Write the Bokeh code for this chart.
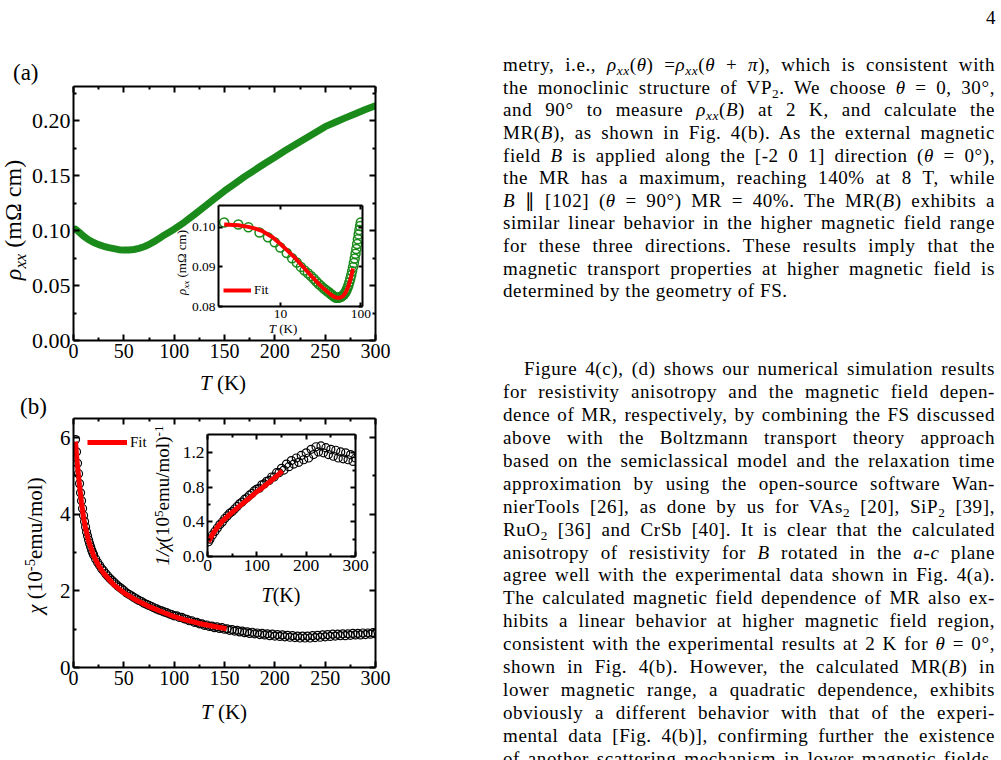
from bokeh.plotting import figure
from bokeh.models import (Div, Column, LinearAxis, LogAxis, FixedTicker, Legend, LegendItem,
                          Range1d, PrintfTickFormatter)
from bokeh.embed import file_html
from bokeh.resources import INLINE

SERIF = "Liberation Serif"
GREEN = "#1a8a1a"
RED = "#ff0000"

# ---------------- data ----------------
# (a) main: rho_xx(T), mOhm cm
a_T = [2, 5, 10, 15, 20, 25, 30, 35, 40, 45, 50, 55, 60, 65, 70, 75, 80, 85, 90, 95, 100,
       110, 120, 130, 140, 150, 160, 170, 180, 190, 200, 210, 220, 230, 240, 250, 260, 270,
       280, 290, 300]
a_rho = [0.1012, 0.0990, 0.0949, 0.0916, 0.0891, 0.0872, 0.0857, 0.0845, 0.0836, 0.0826,
         0.0822, 0.0824, 0.0828, 0.0838, 0.0853, 0.0873, 0.0899, 0.0927, 0.0958, 0.0985,
         0.1012, 0.1075, 0.1145, 0.1217, 0.1290, 0.1360, 0.1425, 0.1490, 0.1550, 0.1610,
         0.1667, 0.1725, 0.1780, 0.1835, 0.1890, 0.1945, 0.1985, 0.2025, 0.2063, 0.2100, 0.2136]

# (a) inset: rho_xx(T) on log T, and the fit
ai_T = [2, 3, 4, 5.5, 7, 8.5, 10, 12, 14, 16, 18, 20, 22, 24, 26, 28, 30, 32, 34, 36, 38, 40,
        42, 44, 46, 48, 50, 52, 54, 56, 58, 60, 62, 64, 66, 68, 70, 72, 74, 76, 78, 80, 82,
        84, 86, 88, 90, 92, 94, 96, 98, 100]
ai_rho = [0.1012, 0.1007, 0.1000, 0.0987, 0.0975, 0.0962, 0.0949, 0.0935, 0.0922, 0.0911,
          0.0900, 0.0891, 0.0884, 0.0877, 0.0870, 0.0863, 0.0857, 0.0852, 0.0847, 0.0843,
          0.0839, 0.0836, 0.0832, 0.0829, 0.0826, 0.0823, 0.0822, 0.0822, 0.0823, 0.0824,
          0.0826, 0.0828, 0.0831, 0.0835, 0.0840, 0.0846, 0.0853, 0.0861, 0.0870, 0.0879,
          0.0889, 0.0899, 0.0910, 0.0921, 0.0933, 0.0945, 0.0958, 0.0970, 0.0982, 0.0993,
          0.1003, 0.1012]
ai_fit_T = [2, 3, 4, 5, 6, 8, 10, 12, 15, 20, 25, 30, 35, 40, 45, 50, 55, 60, 65, 70, 75, 80]
ai_fit_rho = [0.1007, 0.1005, 0.1001, 0.0996, 0.0990, 0.0975, 0.0958, 0.0943, 0.0924, 0.0896,
              0.0874, 0.0857, 0.0844, 0.0834, 0.0826, 0.0822, 0.0822, 0.0826, 0.0836, 0.0851,
              0.0871, 0.0896]

# (b) main: chi(T), 1e-5 emu/mol
b_T = [2, 3, 4, 5, 6, 7, 8, 9, 10, 11, 12, 13, 14, 15, 16, 17, 18, 19, 20,
       22, 24, 26, 28, 30, 32, 34, 36, 38, 40, 42, 44, 46, 48, 50,
       52.5, 55, 57.5, 60, 62.5, 65, 67.5, 70, 72.5, 75, 77.5, 80, 82.5, 85, 87.5, 90, 92.5, 95,
       97.5, 100,
       102.5, 105, 107.5, 110, 112.5, 115, 117.5, 120, 122.5, 125,
       127.5, 130, 132.5, 135, 137.5, 140, 142.5, 145, 147.5, 150,
       152.5, 155, 157.5, 160, 162.5, 165, 167.5, 170, 172.5, 175,
       177.5, 180, 182.5, 185, 187.5, 190, 192.5, 195, 197.5, 200,
       202.5, 205, 207.5, 210, 212.5, 215, 217.5, 220, 222.5, 225,
       227.5, 230, 232.5, 235, 237.5, 240, 242.5, 245, 247.5, 250,
       252.5, 255, 257.5, 260, 262.5, 265, 267.5, 270, 272.5, 275,
       277.5, 280, 282.5, 285, 287.5, 290, 292.5, 295, 297.5, 300]
b_chi = [5.95, 5.63, 5.33, 5.06, 4.80, 4.56, 4.35, 4.15, 3.97, 3.81, 3.67, 3.54, 3.43, 3.33,
         3.24, 3.15, 3.07, 3.00, 2.94,
         2.83, 2.74, 2.66, 2.58, 2.52, 2.45, 2.39, 2.33, 2.28, 2.23, 2.18, 2.13, 2.09, 2.05, 2.01,
         1.95, 1.91, 1.87, 1.83, 1.79, 1.75, 1.72, 1.68, 1.65, 1.62, 1.59, 1.56, 1.53, 1.50,
         1.48, 1.45, 1.43, 1.40, 1.38, 1.35,
         1.35, 1.31, 1.31, 1.27, 1.26, 1.22, 1.22, 1.18, 1.18, 1.14,
         1.14, 1.10, 1.11, 1.07, 1.08, 1.04, 1.06, 1.02, 1.04, 1.00,
         1.01, 0.97, 0.99, 0.95, 0.97, 0.93, 0.95, 0.91, 0.93, 0.89,
         0.92, 0.88, 0.90, 0.86, 0.89, 0.85, 0.88, 0.83, 0.87, 0.82,
         0.86, 0.81, 0.85, 0.80, 0.84, 0.79, 0.83, 0.78, 0.82, 0.77,
         0.82, 0.77, 0.82, 0.77, 0.83, 0.78, 0.84, 0.79, 0.85, 0.80,
         0.86, 0.81, 0.87, 0.82, 0.87, 0.83, 0.88, 0.83, 0.88, 0.84,
         0.89, 0.85, 0.89, 0.85, 0.90, 0.86, 0.90, 0.87, 0.91, 0.88]
b_fit_T = [2, 3, 4, 5, 6, 8, 10, 12, 15, 20, 25, 30, 40, 50, 60, 75, 90, 100, 110, 125, 140, 152]
b_fit_chi = [5.90, 5.55, 5.25, 5.00, 4.75, 4.30, 3.92, 3.63, 3.30, 2.92, 2.66, 2.46, 2.16,
             1.95, 1.79, 1.59, 1.43, 1.33, 1.25, 1.15, 1.07, 1.01]

# (b) inset: 1/chi(T), (1e5 emu/mol)^-1
bi_T = [2, 5, 10, 15, 20, 25, 30, 35, 40, 45,
        50, 55, 60, 65, 70, 75, 80, 85, 90, 95,
        100, 105, 110, 115, 120, 125, 130, 135, 140, 145,
        150, 155, 160, 165, 170, 175, 180, 185, 190, 195,
        200, 205, 210, 215, 220, 225, 230, 235, 240, 245,
        250, 255, 260, 265, 270, 275, 280, 285, 290, 295, 300]
bi_inv = [0.17, 0.20, 0.25, 0.29, 0.33, 0.37, 0.40, 0.44, 0.47, 0.50,
          0.52, 0.55, 0.58, 0.61, 0.63, 0.66, 0.68, 0.71, 0.73, 0.76,
          0.78, 0.79, 0.83, 0.84, 0.87, 0.88, 0.92, 0.92, 0.97, 0.97,
          1.02, 1.00, 1.07, 1.04, 1.11, 1.07, 1.14, 1.09, 1.17, 1.12,
          1.20, 1.14, 1.24, 1.18, 1.27, 1.21, 1.28, 1.20, 1.26, 1.18,
          1.24, 1.16, 1.23, 1.14, 1.21, 1.13, 1.20, 1.12, 1.18, 1.10, 1.14]
bi_fit_T = [2, 10, 20, 30, 40, 50, 60, 75, 90, 100, 110, 125, 140, 152]
bi_fit_inv = [0.17, 0.255, 0.34, 0.41, 0.46, 0.51, 0.56, 0.63, 0.70, 0.75, 0.79, 0.86, 0.93, 0.99]

# tick sets
a_xticks = [0, 50, 100, 150, 200, 250, 300]
a_xminor = [25, 75, 125, 175, 225, 275]
a_yticks = [0.0, 0.05, 0.10, 0.15, 0.20]
a_yminor = [0.025, 0.075, 0.125, 0.175, 0.225]
ai_xticks = [10, 100]
ai_yticks = [0.08, 0.09, 0.10]
b_yticks = [0, 2, 4, 6]
b_yminor = [1, 3, 5]
bi_xticks = [0, 100, 200, 300]
bi_xminor = [50, 150, 250]
bi_yticks = [0.0, 0.4, 0.8, 1.2]
bi_yminor = [0.2, 0.6, 1.0]

# the column aligns left/right borders of all figures, so keep them equal everywhere
BL, BR = 73, 25


def pos(left, top):
    return {"position": "absolute", "left": f"{left}px", "top": f"{top}px"}


def style_axis(ax, ticks, minor, fmt, size, show, tin, tmin):
    ax.ticker = FixedTicker(ticks=ticks, minor_ticks=minor)
    ax.formatter = PrintfTickFormatter(format=fmt)
    ax.axis_line_width = 2
    ax.axis_line_color = "black"
    ax.major_tick_line_width = 2
    ax.minor_tick_line_width = 2
    ax.major_tick_line_color = "black"
    ax.minor_tick_line_color = "black"
    ax.major_tick_in = tin
    ax.major_tick_out = 0
    ax.minor_tick_in = tmin
    ax.minor_tick_out = 0
    ax.major_label_text_font = SERIF
    ax.major_label_text_color = "black"
    if show:
        ax.major_label_text_font_size = size
    else:
        ax.major_label_text_font_size = "1px"
        ax.major_label_text_alpha = 0
    ax.major_label_standoff = 3


def make_fig(frame_left, frame_top, fw, fh, mt, mbot, xr, yr, log_x=False):
    p = figure(width=BL + fw + BR, height=mt + fh + mbot,
               min_border_left=BL, min_border_right=BR,
               min_border_top=mt, min_border_bottom=mbot, x_range=xr, y_range=yr,
               x_axis_type="log" if log_x else "linear",
               output_backend="svg", toolbar_location=None,
               styles=pos(frame_left - BL, frame_top - mt))
    p.grid.visible = False
    p.outline_line_color = None
    p.border_fill_alpha = 0
    p.background_fill_color = "white"
    p.add_layout((LogAxis() if log_x else LinearAxis()), "above")
    p.add_layout(LinearAxis(), "right")
    return p


def setup(p, xt, xm, xf, xsize, yt, ym, yf, ysize, tin, tmin):
    style_axis(p.below[0], xt, xm, xf, xsize, True, tin, tmin)
    style_axis(p.above[0], xt, xm, xf, xsize, False, tin, tmin)
    style_axis(p.left[0], yt, ym, yf, ysize, True, tin, tmin)
    style_axis(p.right[0], yt, ym, yf, ysize, False, tin, tmin)


def label(html, cx, cy, size, rotate=False, box=240):
    rot = "transform:rotate(-90deg);" if rotate else ""
    inner = (f'<div style="width:{box}px;height:{box}px;display:flex;align-items:center;'
             f'justify-content:center;"><span style="font-family:\'{SERIF}\';'
             f'font-size:{size}px;color:#000;white-space:nowrap;line-height:1;{rot}">'
             f'{html}</span></div>')
    return Div(text=inner, width=box, height=box, margin=0,
               styles=pos(cx - box / 2, cy - box / 2))


SUP = '<sup style="font-size:70%;line-height:0;vertical-align:0.45em">{}</sup>'
SUB = '<sub style="font-size:70%;line-height:0;vertical-align:-0.3em">{}</sub>'

# ---------------- (a) main ----------------
pa = make_fig(73, 86, 302, 254, 26, 55, Range1d(0, 300), Range1d(0, 0.231))
setup(pa, a_xticks, a_xminor, "%d", "20px", a_yticks, a_yminor, "%.2f", "22px", 6, 3)
pa.line(a_T, a_rho, line_width=7, line_color=GREEN, line_cap="round", line_join="round")

# ---------------- (a) inset ----------------
pai = make_fig(218, 205, 144, 101, 5, 32, Range1d(1.7, 105), Range1d(0.08, 0.1055),
               log_x=True)
setup(pai, ai_xticks, [], "%d", "13.5px", ai_yticks, [], "%.2f", "13.5px", 4, 2)
pai.scatter(ai_T, ai_rho, marker="circle", size=9, line_color=GREEN, line_width=1.5,
            fill_alpha=0)
r_fit_a = pai.line(ai_fit_T, ai_fit_rho, line_width=4, line_color=RED)
pai.add_layout(Legend(items=[LegendItem(label="Fit", renderers=[r_fit_a])],
                      location="bottom_left", glyph_width=28, glyph_height=22, label_height=22,
                      label_standoff=3, padding=0, margin=5, spacing=0,
                      border_line_color=None, background_fill_alpha=0,
                      label_text_font=SERIF, label_text_font_size="13px",
                      label_text_color="black"))

# ---------------- (b) main ----------------
pb = make_fig(73, 418, 302, 249, 22, 55, Range1d(0, 300), Range1d(0, 6.5))
setup(pb, a_xticks, a_xminor, "%d", "20px", b_yticks, b_yminor, "%d", "21px", 6, 3)
pb.scatter(b_T, b_chi, marker="circle", size=8, line_color="black", line_width=1.2,
           fill_alpha=0)
r_fit_b = pb.line(b_fit_T, b_fit_chi, line_width=5, line_color=RED)
pb.add_layout(Legend(items=[LegendItem(label="Fit", renderers=[r_fit_b])],
                     location="top_left", glyph_width=40, glyph_height=20, label_height=20,
                     label_standoff=3, padding=0, margin=14, spacing=0,
                     border_line_color=None, background_fill_alpha=0,
                     label_text_font=SERIF, label_text_font_size="15px",
                     label_text_color="black"))

# ---------------- (b) inset ----------------
pbi = make_fig(207, 434, 148, 122, 5, 55, Range1d(0, 300), Range1d(0, 1.412))
setup(pbi, bi_xticks, bi_xminor, "%d", "17.5px", bi_yticks, bi_yminor, "%.1f", "17.5px", 5, 3)
pbi.scatter(bi_T, bi_inv, marker="circle", size=8, line_color="black", line_width=1.2,
            fill_alpha=0)
pbi.line(bi_fit_T, bi_fit_inv, line_width=5, line_color=RED)

# ---------------- axis titles ----------------
TK = "<i>T</i> (K)"
axis_titles = [
    label("<i>\u03c1</i>" + SUB.format("<i>xx</i>") + " (m\u03a9 cm)", 13, 220, 24, True),
    label(TK, 223, 383, 21),
    label("<i>\u03c1</i>" + SUB.format("<i>xx</i>") + " (m\u03a9 cm)", 182, 262, 13, True),
    label(TK, 283, 328, 13),
    label("<i>\u03c7</i> (10" + SUP.format("-5") + "emu/mol)", 35, 545, 21, True),
    label(TK, 224, 712, 21),
    label("<i>1/\u03c7</i>(10" + SUP.format("5") + "emu/mol)" + SUP.format("-1"), 162, 495, 19,
          True),
    label("<i>T</i>(K)", 281, 595, 20),
]

# ---------------- page texts ----------------
rxx = "<i>\u03c1</i>" + SUB.format("<i>xx</i>")
th = "<i>\u03b8</i>"
para1 = [
    f"metry, i.e., {rxx}({th}) ={rxx}({th} + <i>\u03c0</i>), which is consistent with",
    f"the monoclinic structure of VP{SUB.format('2')}. We choose {th} = 0, 30\u00b0,",
    f"and 90\u00b0 to measure {rxx}(<i>B</i>) at 2 K, and calculate the",
    "MR(<i>B</i>), as shown in Fig. 4(b). As the external magnetic",
    f"field <i>B</i> is applied along the [-2 0 1] direction ({th} = 0\u00b0),",
    "the MR has a maximum, reaching 140% at 8 T, while",
    f"<i>B</i> \u2225 [102] ({th} = 90\u00b0) MR = 40%. The MR(<i>B</i>) exhibits a",
    "similar linear behavior in the higher magnetic field range",
    "for these three directions. These results imply that the",
    "magnetic transport properties at higher magnetic field is",
    "determined by the geometry of FS.",
]
para2 = [
    "Figure 4(c), (d) shows our numerical simulation results",
    "for resistivity anisotropy and the magnetic field depen-",
    "dence of MR, respectively, by combining the FS discussed",
    "above with the Boltzmann transport theory approach",
    "based on the semiclassical model and the relaxation time",
    "approximation by using the open-source software Wan-",
    f"nierTools [26], as done by us for VAs{SUB.format('2')} [20], SiP{SUB.format('2')} [39],",
    f"RuO{SUB.format('2')} [36] and CrSb [40]. It is clear that the calculated",
    "anisotropy of resistivity for <i>B</i> rotated in the <i>a</i>-<i>c</i> plane",
    "agree well with the experimental data shown in Fig. 4(a).",
    "The calculated magnetic field dependence of MR also ex-",
    "hibits a linear behavior at higher magnetic field region,",
    f"consistent with the experimental results at 2 K for {th} = 0\u00b0,",
    "shown in Fig. 4(b). However, the calculated MR(<i>B</i>) in",
    "lower magnetic range, a quadratic dependence, exhibits",
    "obviously a different behavior with that of the experi-",
    "mental data [Fig. 4(b)], confirming further the existence",
    "of another scattering mechanism in lower magnetic fields.",
]

rows = []
LH = 22
for i, ln in enumerate(para1):
    top = 65 + i * 22.63 - LH / 2
    last = "left" if i == len(para1) - 1 else "justify"
    rows.append((top, ln, last, 0))
for i, ln in enumerate(para2):
    top = 369.3 + i * 22.9 - LH / 2
    rows.append((top, ln, "justify", 21 if i == 0 else 0))

TW = 492
html = [f'<div style="position:relative;width:{TW}px;height:760px;'
        f"font-family:'{SERIF}';font-size:19px;letter-spacing:0.6px;color:#000;\">"]
for top, ln, last, ind in rows:
    html.append(f'<div style="position:absolute;left:0;top:{top:.1f}px;width:{TW}px;'
                f'text-indent:{ind}px;height:{LH}px;line-height:{LH}px;text-align:justify;'
                f'text-align-last:{last};">{ln}</div>')
html.append("</div>")
text_div = Div(text="".join(html), width=TW + 4, height=760, margin=0, styles=pos(503, 0))


def small_div(txt, left, top, size):
    return Div(text=f"<span style=\"font-family:'{SERIF}';font-size:{size}px;"
                    f"color:#000;line-height:1\">{txt}</span>",
               width=40, height=30, margin=0, styles=pos(left, top))


lab_a = small_div("(a)", 13, 61, 23)
lab_b = small_div("(b)", 20, 395, 23)
page_no = small_div("4", 986, 8, 19)

root = Column(children=[pa, pb, pai, pbi, text_div, lab_a, lab_b, page_no] + axis_titles,
              width=1001, height=760, styles={"position": "relative"})

open("out.html", "w").write(file_html(root, INLINE, "VP2 figure page"))
